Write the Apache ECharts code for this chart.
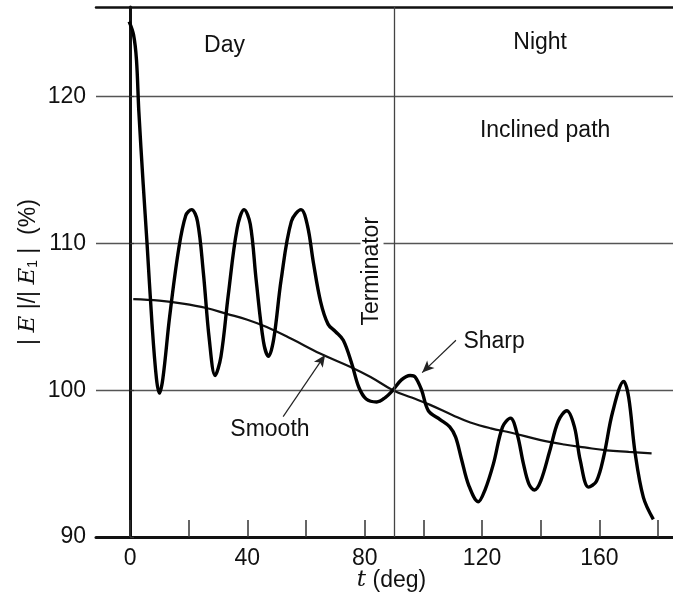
<!DOCTYPE html>
<html>
<head>
<meta charset="utf-8">
<script src="https://cdn.jsdelivr.net/npm/echarts@6/dist/echarts.min.js"></script>
<style>
html,body{margin:0;padding:0;background:#fff;}
#chart{width:673px;height:592px;}
</style>
</head>
<body>
<div id="chart"></div>
<script>
// t (deg), |E|/|E1| (%)
var sharpData = [
    [-0.3,125.1],[1.2,124.2],[2.2,122.5],[3.0,119.0],[4.5,114.0],[5.8,110.0],[7.5,104.5],[9.0,100.8],[10.0,99.8],
    [11.2,100.8],[13.5,105.0],[16.5,109.5],[19.0,111.9],[21.0,112.3],[23.0,111.5],[25.0,108.0],[27.0,103.5],[29.0,101.0],
    [31.0,102.3],[33.5,106.5],[36.5,111.0],[38.9,112.3],[41.0,111.3],[43.0,107.5],[45.5,103.3],[47.2,102.3],
    [49.0,103.5],[51.5,107.5],[55.0,111.5],[58.3,112.3],[60.5,111.2],[62.5,108.7],[65.0,106.0],[67.5,104.5],
    [70.0,104.0],[72.7,103.4],[75.6,101.8],[78.0,100.2],[80.5,99.4],[84.1,99.2],[87.0,99.5],[89.6,100.0],
    [92.5,100.7],[95.5,101.0],[97.2,100.9],[99.4,100.0],[101.7,98.6],[105.7,98.0],[109.0,97.5],[111.0,96.8],
    [113.0,95.3],[115.5,93.5],[118.7,92.4],[121.0,93.2],[123.9,95.0],[127.0,97.5],[129.7,98.1],[132.0,97.0],
    [134.1,95.0],[136.0,93.6],[137.9,93.2],[140.0,93.8],[143.0,95.8],[146.0,97.9],[148.9,98.6],[151.5,97.5],
    [153.5,95.2],[156.3,93.4],[159.0,93.8],[161.5,95.5],[164.5,98.5],[168.3,100.6],[170.0,99.5],[172.2,95.7],
    [175.0,92.7],[178.4,91.2]
];
var smoothData = [
    [1.1,106.2],[10,106.1],[18,105.9],[26,105.6],[33,105.2],[40,104.8],[46.6,104.3],[55,103.5],[64.8,102.5],
    [75,101.6],[82,100.9],[89.6,100.0],[96,99.5],[102.3,99.0],[110,98.3],[116,97.8],[123,97.4],[130,97.1],
    [140,96.6],[148,96.3],[155,96.1],[162.5,95.9],[170,95.8],[177.8,95.7]
];
var xTicks = [0,20,40,60,80,100,120,140,160,180];
var xLabels = [0,40,80,120,160];
var yLabels = [90,100,110,120];
var terminatorT = 90;
// text notes: [t, value, text, rotate]
var notes = [
    [32.2,123.5,'Day',0],
    [139.8,123.7,'Night',0],
    [141.5,117.7,'Inclined path',0],
    [82.5,108.1,'Terminator',90],
    [47.7,97.3,'Smooth',0],
    [124.1,103.3,'Sharp',0]
];
// arrows: [fromT, fromV, toT, toV]
var arrows = [
    [52.2,98.2,66.5,102.4],
    [111.1,103.4,99.6,101.2]
];

var font = "'Liberation Sans', Arial, sans-serif";
var chart = echarts.init(document.getElementById('chart'));

var noteItems = notes.map(function(n){
    return {
        value:[n[0],n[1]],
        name:n[2],
        label:{
            rotate:n[3],
            backgroundColor:n[3] ? '#fff' : 'transparent',
            padding:n[3] ? [0,2] : 0
        }
    };
});
var arrowLines = arrows.map(function(a){
    return [
        {coord:[a[0],a[1]],symbol:'none'},
        {coord:[a[2],a[3]],symbol:'arrow',symbolSize:[8,12]}
    ];
});

var option = {
    animation:false,
    backgroundColor:'#fff',
    textStyle:{fontFamily:font},
    grid:{left:96,right:0,top:7,bottom:55,outerBoundsMode:'none'},
    xAxis:[
        {
            type:'value',
            min:-11.6,
            max:185.1,
            name:'{i|t} (deg)',
            nameLocation:'middle',
            nameGap:32,
            nameMoveOverlap:false,
            nameTextStyle:{
                fontSize:23,color:'#111',fontFamily:font,padding:[0,0,0,14],
                rich:{i:{fontSize:23,fontStyle:'italic',fontFamily:"'DejaVu Serif', serif",color:'#111'}}
            },
            axisLine:{show:true,onZero:false,lineStyle:{color:'#111',width:3}},
            axisTick:{show:true,inside:true,length:17,customValues:xTicks,lineStyle:{color:'#333',width:1.5}},
            axisLabel:{show:true,customValues:xLabels,fontSize:23,color:'#111',margin:10,fontFamily:font},
            splitLine:{show:false}
        },
        {
            type:'value',
            position:'top',
            min:-11.6,
            max:185.1,
            axisLine:{show:true,onZero:false,lineStyle:{color:'#111',width:2.5}},
            axisTick:{show:false},
            axisLabel:{show:false},
            splitLine:{show:false}
        }
    ],
    yAxis:{
        type:'value',
        min:90,
        max:126.1,
        interval:10,
        name:'| {i|E} |/| {i|E}{s|1} |  (%)',
        nameLocation:'middle',
        nameRotate:90,
        nameGap:56,
        nameMoveOverlap:false,
        nameTextStyle:{
            fontSize:23,color:'#111',fontFamily:font,
            rich:{
                i:{fontSize:23,fontStyle:'italic',fontFamily:"'DejaVu Serif', serif",color:'#111'},
                s:{fontSize:14,verticalAlign:'bottom',padding:[9,0,0,0],color:'#111',fontFamily:font}
            }
        },
        axisLine:{show:true,lineStyle:{color:'#111',width:3}},
        axisTick:{show:true,inside:true,length:4,customValues:yLabels,lineStyle:{color:'#333',width:1.2}},
        axisLabel:{show:true,customValues:yLabels,fontSize:23,color:'#111',margin:10,fontFamily:font},
        splitLine:{show:true,lineStyle:{color:'#555',width:1.3}}
    },
    series:[
        {
            name:'Smooth',
            type:'line',
            data:smoothData,
            smooth:0.4,
            showSymbol:false,
            symbol:'none',
            lineStyle:{color:'#111',width:2.2},
            z:3
        },
        {
            name:'Sharp',
            type:'line',
            data:sharpData,
            smooth:0.35,
            showSymbol:false,
            symbol:'none',
            lineStyle:{color:'#000',width:3.4},
            z:4
        },
        {
            name:'notes',
            type:'scatter',
            data:noteItems,
            symbolSize:0,
            silent:true,
            z:5,
            itemStyle:{opacity:1},
            label:{
                show:true,
                position:'inside',
                formatter:'{b}',
                fontSize:23,
                color:'#111',
                opacity:1,
                fontFamily:font
            },
            markLine:{
                silent:true,
                animation:false,
                symbol:['none','none'],
                label:{show:false},
                data:[
                    {xAxis:terminatorT,lineStyle:{color:'#444',width:1.3,type:'solid'}}
                ].concat(arrowLines),
                lineStyle:{color:'#222',width:1.2,type:'solid'}
            }
        }
    ]
};
chart.setOption(option);
</script>
</body>
</html>
